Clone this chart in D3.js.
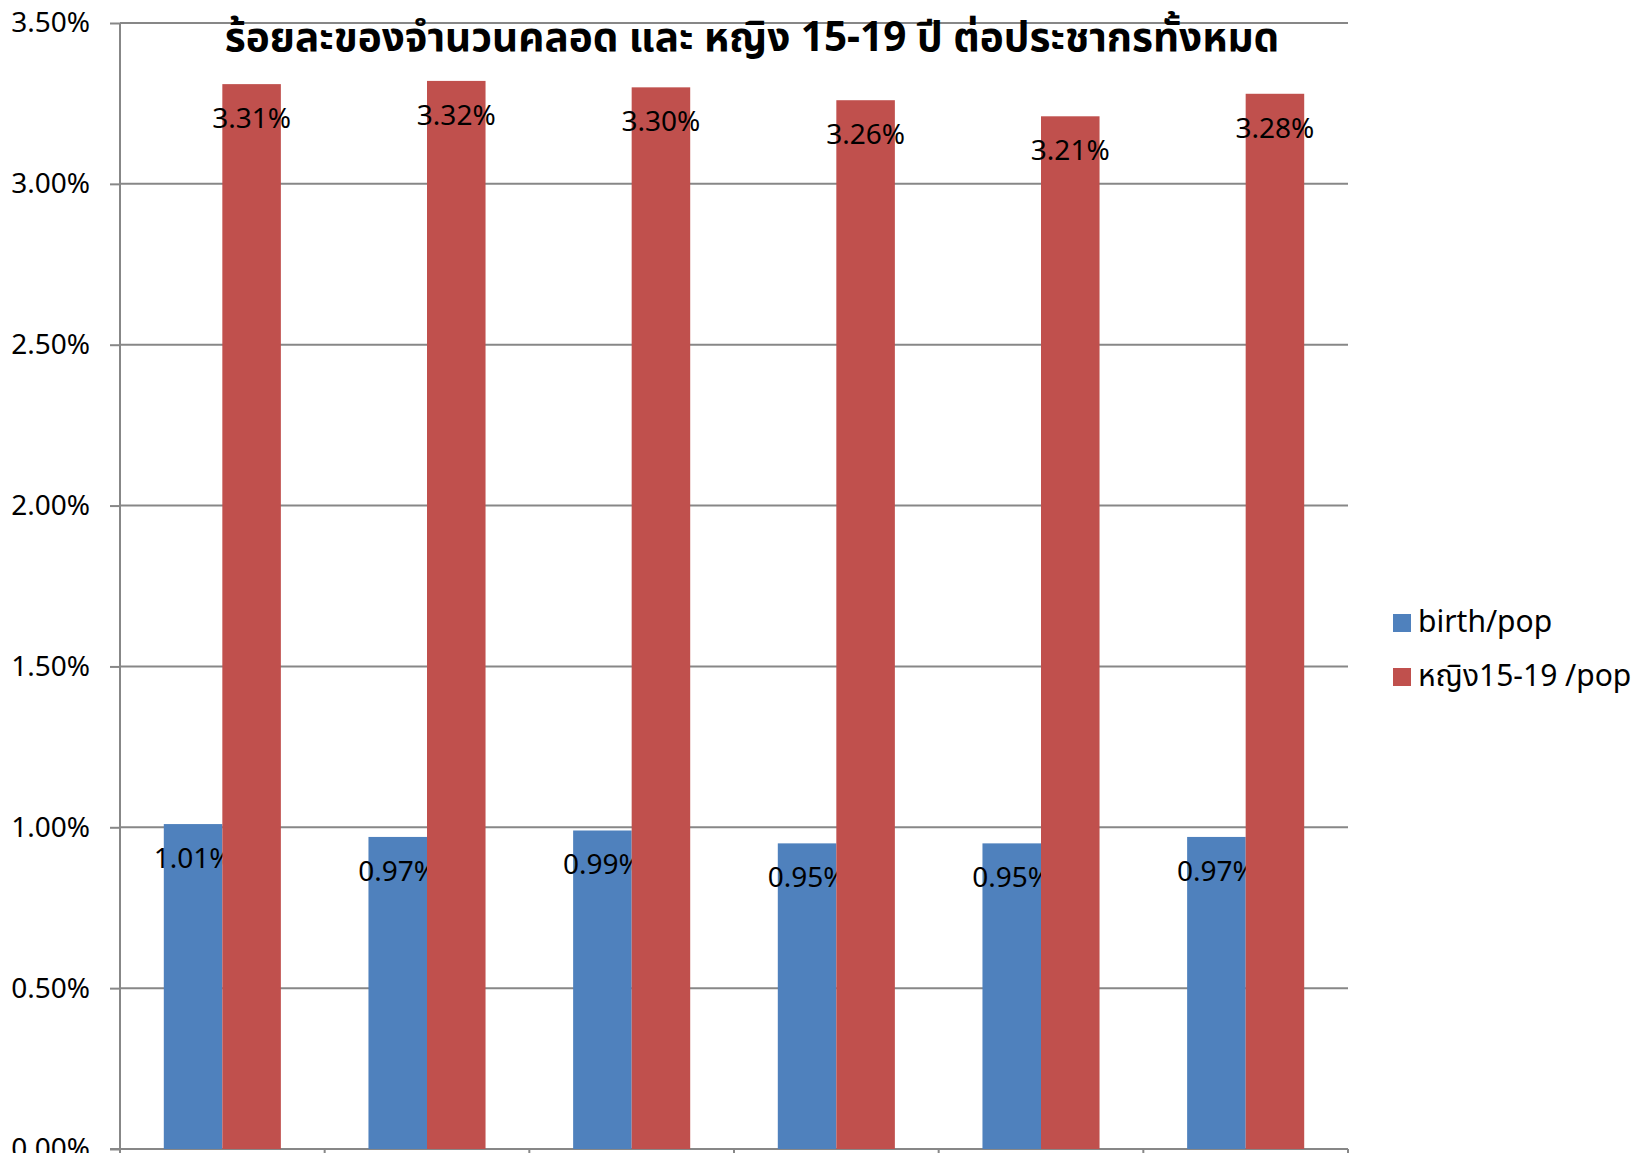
<!DOCTYPE html>
<html><head><meta charset="utf-8">
<script src="https://cdn.jsdelivr.net/npm/d3@7/dist/d3.min.js"></script>
<style>
html,body{margin:0;padding:0;background:#fff;overflow:hidden}
text{font-family:"Noto Sans","Noto Sans Thai","Open Sans",sans-serif}
</style></head>
<body>
<svg id="c" width="1642" height="1153"></svg>
<script>
const categories = ["1","2","3","4","5","6"];
const seriesNames = ["birth/pop", "หญิง15-19 /pop"];
const birthPop = [1.01, 0.97, 0.99, 0.95, 0.95, 0.97];
const women1519Pop = [3.31, 3.32, 3.30, 3.26, 3.21, 3.28];
const yTicks = [0, 0.5, 1.0, 1.5, 2.0, 2.5, 3.0, 3.5];
const colors = ["#4F81BD", "#C0504D"];
const title = "ร้อยละของจำนวนคลอด และ หญิง 15-19 ปี ต่อประชากรทั้งหมด";

const svg = d3.select("#c");
const L = 120, R = 1348, T = 23, B = 1149;

const x = d3.scaleBand().domain(categories).range([L, R]).paddingInner(0.428).paddingOuter(0.214);
const xs = d3.scaleBand().domain([0,1]).range([0, x.bandwidth()]);
const y = d3.scaleLinear().domain([0, 3.5]).range([B, T]);

// gridlines
svg.append("g").selectAll("line").data(yTicks.filter(d => d > 0)).join("line")
  .attr("x1", L).attr("x2", R).attr("y1", d => y(d)).attr("y2", d => y(d))
  .attr("stroke", "#878787").attr("stroke-width", 2);

// y axis
const yAxis = svg.append("g").attr("transform", `translate(${L},0)`)
  .call(d3.axisLeft(y).tickValues(yTicks).tickSize(10).tickPadding(20).tickFormat(d => d.toFixed(2) + "%"));
yAxis.select(".domain").attr("stroke", "#878787").attr("stroke-width", 2).attr("d", `M0,${T}V${B}`);
yAxis.selectAll(".tick line").attr("stroke", "#878787").attr("stroke-width", 2);
yAxis.selectAll(".tick text").attr("font-size", 28).attr("fill", "#000")
  .style("font-family", '"Noto Sans","Open Sans",sans-serif');

// x axis
const xAxis = svg.append("g").attr("transform", `translate(0,${B})`);
xAxis.append("line").attr("x1", L - 10).attr("x2", R).attr("y1", 0).attr("y2", 0)
  .attr("stroke", "#878787").attr("stroke-width", 2);
const step = x.step();
const bounds = d3.range(categories.length + 1).map(i => L + i * step);
xAxis.selectAll("line.tk").data(bounds).join("line").attr("class", "tk")
  .attr("x1", d => d).attr("x2", d => d).attr("y1", 0).attr("y2", 10)
  .attr("stroke", "#878787").attr("stroke-width", 2);

// bars
const series = [birthPop, women1519Pop];
series.forEach((vals, si) => {
  const g = svg.append("g");
  g.selectAll("rect").data(vals).join("rect")
    .attr("x", (d, i) => x(categories[i]) + xs(si))
    .attr("y", d => y(d))
    .attr("width", xs.bandwidth())
    .attr("height", d => B - y(d))
    .attr("fill", colors[si]);
  g.selectAll("text").data(vals).join("text")
    .attr("x", (d, i) => x(categories[i]) + xs(si) + xs.bandwidth() / 2)
    .attr("y", d => y(d) + 34)
    .attr("dy", "0.35em")
    .attr("text-anchor", "middle")
    .attr("font-size", 28)
    .attr("fill", "#000")
    .text(d => d.toFixed(2) + "%");
});

// title
svg.append("text").attr("x", 752).attr("y", 37).attr("dy", "0.35em")
  .attr("text-anchor", "middle").attr("font-size", 40.5).attr("font-weight", "bold")
  .attr("fill", "#000").text(title);

// legend
const lg = svg.append("g");
seriesNames.forEach((n, i) => {
  const yy = 614 + i * 54;
  lg.append("rect").attr("x", 1393).attr("y", yy).attr("width", 18).attr("height", 18).attr("fill", colors[i]);
  lg.append("text").attr("x", 1418).attr("y", yy + 18).attr("font-size", 30).attr("fill", "#000").text(n);
});
</script>
</body></html>
